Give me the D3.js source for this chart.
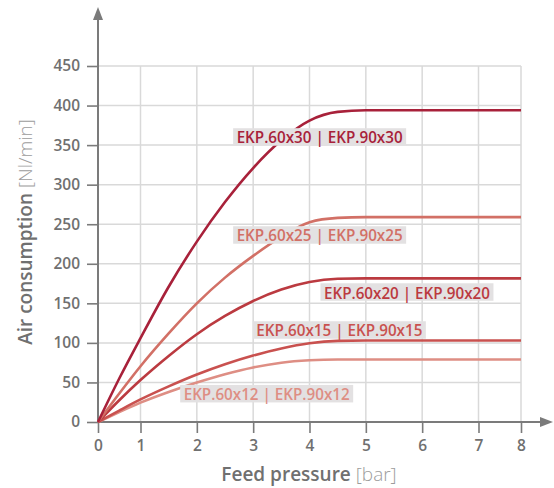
<!DOCTYPE html>
<html><head><meta charset="utf-8">
<script src="https://cdn.jsdelivr.net/npm/d3@7"></script>
<style>html,body{margin:0;padding:0;background:#fff;}svg{display:block;}</style>
</head><body><svg id="c" width="554" height="488"></svg>
<script>
// ---- data ----
const pressure = [0, 0.5, 1, 1.5, 2, 2.5, 3, 3.5, 4, 4.5, 5, 6, 7, 8];
const ekp30 = [0, 55, 106, 171, 228, 278, 321, 356, 381, 392, 394, 394, 394, 394];
const ekp25 = [0, 36, 70.5, 112, 150, 182.5, 210, 234, 252.5, 258, 259, 259, 259, 259];
const ekp20 = [0, 27.5, 53, 83.5, 111, 134, 153, 167.5, 177, 181, 181.5, 181.5, 181.5, 181.5];
const ekp15 = [0, 14.5, 28.5, 45, 60, 73, 84, 93, 99.5, 102.5, 103, 103, 103, 103];
const ekp12 = [0, 12.5, 24.5, 38, 50, 60.5, 69, 75, 78, 79, 79, 79, 79, 79];
const seriesNames = ["EKP.60x30 | EKP.90x30", "EKP.60x25 | EKP.90x25", "EKP.60x20 | EKP.90x20", "EKP.60x15 | EKP.90x15", "EKP.60x12 | EKP.90x12"];
const xTicks = [0, 1, 2, 3, 4, 5, 6, 7, 8];
const yTicks = [0, 50, 100, 150, 200, 250, 300, 350, 400, 450];

// ---- layout / style ----
const colors = ["#a8213a", "#d27066", "#bb3a40", "#c9514f", "#de8e84"];
const labelAt = [[4.18, 360.3], [4.18, 236.4], [5.73, 164.3], [4.53, 116.3], [3.24, 35.8]];
const allSeries = [ekp30, ekp25, ekp20, ekp15, ekp12];

const svg = d3.select("#c");
const x = d3.scaleLinear().domain([0, 1, 7, 8]).range([98, 140.5, 478.5, 521]);
const y = d3.scaleLinear().domain([0, 450]).range([422, 66]);
const axisCol = "#7b7b7b", gridCol = "#d9d9d9", textCol = "#707070";

// grid
const g = svg.append("g");
g.selectAll("line.v").data(xTicks.slice(1)).join("line")
  .attr("x1", d => x(d)).attr("x2", d => x(d)).attr("y1", y(0)).attr("y2", y(450))
  .attr("stroke", gridCol).attr("stroke-width", 1.5);
g.selectAll("line.h").data(yTicks.slice(1)).join("line")
  .attr("x1", x(0)).attr("x2", x(8)).attr("y1", d => y(d)).attr("y2", d => y(d))
  .attr("stroke", gridCol).attr("stroke-width", 1.5);

// axes
const xAxis = d3.axisBottom(x).tickValues(xTicks).tickSize(11).tickPadding(7).tickFormat(d3.format("d"));
const yAxis = d3.axisLeft(y).tickValues(yTicks).tickSize(11).tickPadding(7).tickFormat(d3.format("d"));
const gx = svg.append("g").attr("transform", `translate(0,${y(0)})`).call(xAxis);
const gy = svg.append("g").attr("transform", `translate(${x(0)},0)`).call(yAxis);
[gx, gy].forEach(a => {
  a.select(".domain").remove();
  a.selectAll(".tick line").attr("stroke", axisCol).attr("stroke-width", 1.6);
  a.selectAll(".tick text").attr("fill", textCol).attr("font-family", "Open Sans, sans-serif")
    .attr("font-weight", 600).attr("font-size", 15.5);
});
gx.selectAll(".tick text").attr("dy", "0.71em");
// axis lines with arrows
svg.append("line").attr("x1", x(0)).attr("x2", 542).attr("y1", y(0)).attr("y2", y(0))
  .attr("stroke", axisCol).attr("stroke-width", 2);
svg.append("line").attr("x1", x(0)).attr("x2", x(0)).attr("y1", y(0) + 1).attr("y2", 19)
  .attr("stroke", axisCol).attr("stroke-width", 2);
svg.append("path").attr("d", `M553,${y(0)} L540,${y(0) - 5} L540,${y(0) + 5} Z`).attr("fill", axisCol);
svg.append("path").attr("d", `M${x(0)},7 L${x(0) - 5},20 L${x(0) + 5},20 Z`).attr("fill", axisCol);

// curves
const line = d3.line().x((d, i) => x(pressure[i])).y(d => y(d)).curve(d3.curveMonotoneX);
allSeries.slice().reverse().forEach((s, k) => {
  const i = allSeries.length - 1 - k;
  svg.append("path").attr("d", line(s)).attr("fill", "none")
    .attr("stroke", colors[i]).attr("stroke-width", 2.6);
});

// labels
seriesNames.forEach((name, i) => {
  const cx = x(labelAt[i][0]), cy = y(labelAt[i][1]);
  const w = 173, h = 17.5;
  svg.append("rect").attr("x", cx - w / 2).attr("y", cy - h / 2).attr("width", w).attr("height", h)
    .attr("fill", "#e3e1e2");
  svg.append("text").attr("x", cx).attr("y", cy + 6.5).attr("text-anchor", "middle")
    .attr("font-family", "Open Sans, sans-serif").attr("font-weight", 600).attr("font-size", 16.5)
    .attr("textLength", 166).attr("lengthAdjust", "spacingAndGlyphs")
    .attr("fill", colors[i]).text(name);
});

// axis titles
const xt = svg.append("text").attr("x", 309).attr("y", 481).attr("text-anchor", "middle")
  .attr("font-family", "Open Sans, sans-serif").attr("font-size", 19);
xt.append("tspan").attr("font-weight", 600).attr("fill", textCol).text("Feed pressure ");
xt.append("tspan").attr("font-weight", 300).attr("fill", "#9c9c9c").text("[bar]");
const yt = svg.append("text").attr("transform", "translate(32,232) rotate(-90)").attr("text-anchor", "middle")
  .attr("font-family", "Open Sans, sans-serif").attr("font-size", 19);
yt.append("tspan").attr("font-weight", 600).attr("fill", textCol).text("Air consumption ");
yt.append("tspan").attr("font-weight", 300).attr("fill", "#9c9c9c").text("[Nl/min]");
</script></body></html>
